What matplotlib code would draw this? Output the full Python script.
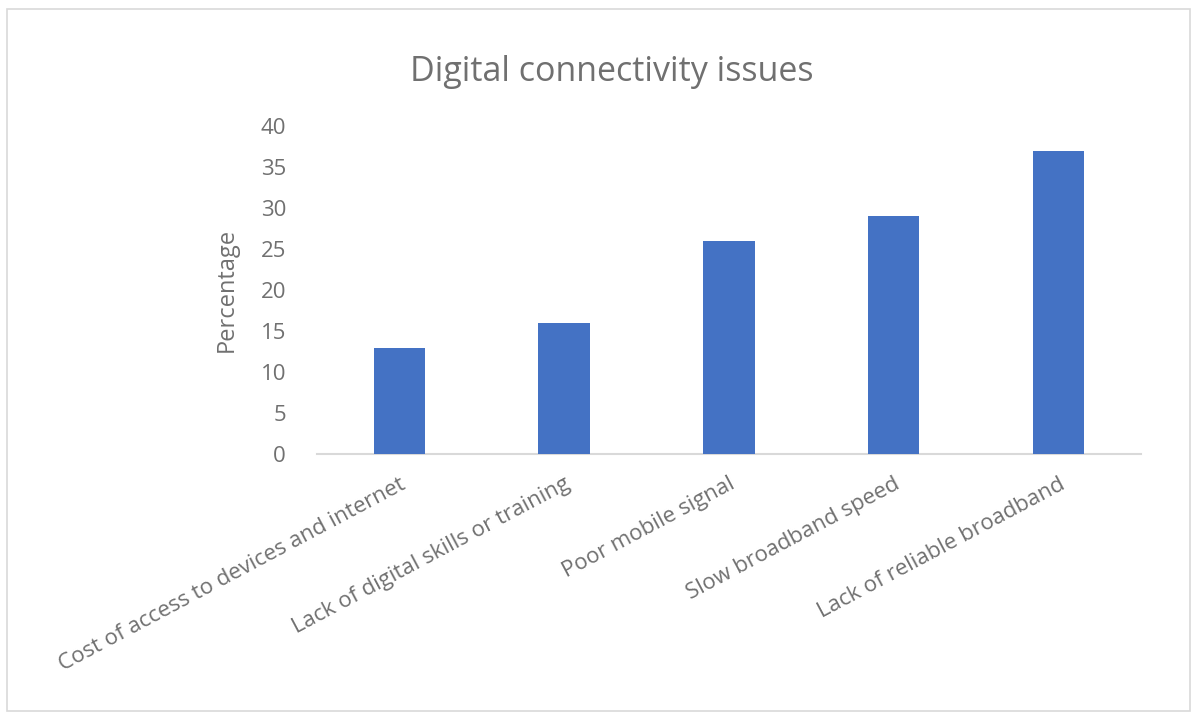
import matplotlib
matplotlib.use("Agg")
from matplotlib import pyplot as plt
from matplotlib.patches import Rectangle

# survey results
issues = [
    "Cost of access to devices and internet",
    "Lack of digital skills or training",
    "Poor mobile signal",
    "Slow broadband speed",
    "Lack of reliable broadband",
]
percentages = [13, 16, 26, 29, 37]
y_ticks = [0, 5, 10, 15, 20, 25, 30, 35, 40]

bar_colour = "#4472C4"
text_colour = "#707070"
line_colour = "#d9d9d9"

plt.rcParams["font.family"] = ["Open Sans", "DejaVu Sans"]

fig = plt.figure(figsize=(11.95, 7.2), dpi=100)
ax = fig.add_axes([0.265, 0.369, 0.69, 0.456])

positions = list(range(len(issues)))
ax.bar(positions, percentages, width=0.31, color=bar_colour, zorder=3)

ax.set_xlim(-0.5, len(issues) - 0.5)
ax.set_ylim(0, 40)
ax.set_yticks(y_ticks)
ax.set_yticklabels([str(t) for t in y_ticks], fontsize=16, color=text_colour)
ax.set_xticks(positions)
ax.set_xticklabels(issues, rotation=28, ha="right", rotation_mode="anchor",
                   fontsize=16, color=text_colour)

for side in ["top", "right", "left"]:
    ax.spines[side].set_visible(False)
ax.spines["bottom"].set_color(line_colour)
ax.spines["bottom"].set_linewidth(1.5)
ax.tick_params(axis="both", length=0)
ax.tick_params(axis="y", pad=22)
ax.tick_params(axis="x", pad=14)

ax.set_ylabel("Percentage", fontsize=17, color=text_colour, labelpad=16)
fig.text(0.512, 0.9, "Digital connectivity issues", ha="center", va="center",
         fontsize=24.5, color=text_colour)

# chart frame
fig.patches.append(Rectangle((0.006, 0.012), 0.99, 0.976, transform=fig.transFigure,
                             fill=False, edgecolor=line_colour, linewidth=1.2))

fig.savefig("out.png", dpi=100)
